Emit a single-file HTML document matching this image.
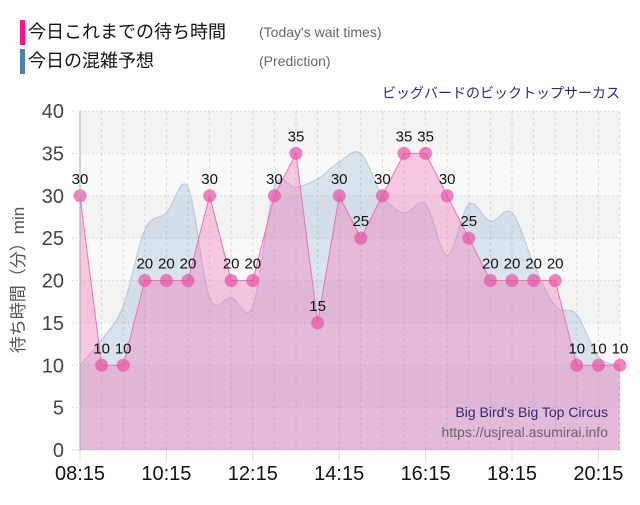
<!DOCTYPE html>
<html><head><meta charset="utf-8"><style>
body{margin:0;background:#fff;width:640px;height:500px;overflow:hidden;font-family:"Liberation Sans","Noto Sans CJK JP",sans-serif}
</style></head><body>
<svg id="chart" width="640" height="500" xmlns="http://www.w3.org/2000/svg" font-family="'Liberation Sans','Noto Sans CJK JP',sans-serif">
<g>
<rect x="20" y="20" width="5" height="25" fill="#f0188c"/>
<text x="28" y="38" font-size="18" fill="#111">今日これまでの待ち時間</text>
<text x="259" y="37" font-size="14" fill="#666">(Today's wait times)</text>
<rect x="20" y="49" width="5" height="25" fill="#4a7fb0"/>
<text x="28" y="67" font-size="18" fill="#111">今日の混雑予想</text>
<text x="259" y="66" font-size="14" fill="#666">(Prediction)</text>
</g>
<text x="620" y="98" text-anchor="end" font-size="14" fill="#2a2a7a">ビッグバードのビックトップサーカス</text>
<g id="grid"></g>
<g id="series"></g>
<g id="axes"></g>
<text x="608" y="417" text-anchor="end" font-size="14" fill="#2a2a7a">Big Bird's Big Top Circus</text>
<text x="608" y="437" text-anchor="end" font-size="14" fill="#666">https://usjreal.asumirai.info</text>
<text transform="translate(24,280) rotate(-90)" text-anchor="middle" font-size="17" fill="#555">待ち時間（分）min</text>
</svg>
<script>
const times=["08:15","08:45","09:15","09:45","10:15","10:45","11:15","11:45","12:15","12:45","13:15","13:45","14:15","14:45","15:15","15:45","16:15","16:45","17:15","17:45","18:15","18:45","19:15","19:45","20:15","20:45"];
const todayValues=[30,10,10,20,20,20,30,20,20,30,35,15,30,25,30,35,35,30,25,20,20,20,20,10,10,10];
const predictionValues=[10,13,17,26,28,31,18,18,17,31,31,32,34,35,30,28,29,23,29,27,28,22,17,16,11,10];
const xTickLabels=["08:15","10:15","12:15","14:15","16:15","18:15","20:15"];
const yTicks=[0,5,10,15,20,25,30,35,40];
</script>
<script>
const NS="http://www.w3.org/2000/svg";
const X0=80,X1=620,Y0=450,Y1=111,YMAX=40;
const n=times.length;
const xs=i=>X0+(X1-X0)*i/(n-1);
const ys=v=>Y0-(Y0-Y1)*v/YMAX;
function mk(tag,attrs,parent){const e=document.createElementNS(NS,tag);for(const k in attrs)e.setAttribute(k,attrs[k]);parent.appendChild(e);return e;}
const grid=document.getElementById('grid'),series=document.getElementById('series'),axes=document.getElementById('axes');
for(let i=0;i<yTicks.length-1;i++){
 const b=mk('rect',{x:X0,y:ys(yTicks[i+1]),width:X1-X0,height:ys(yTicks[i])-ys(yTicks[i+1]),fill:i%2?'#f3f3f3':'#f9f9f9'},grid);
 
 
}
yTicks.forEach(v=>{
 const l=mk('line',{x1:X0-8,x2:X1,y1:ys(v),y2:ys(v),stroke:'#ddd','stroke-dasharray':v>0?'2,2':'none'},grid);
 
 
 const t=mk('text',{x:X0-16,y:ys(v)+7,'text-anchor':'end','font-size':20,fill:'#444'},axes);
 t.textContent=v;
 
 
});
for(let i=0;i<n;i++){
 const l=mk('line',{x1:xs(i),x2:xs(i),y1:Y1,y2:Y0,stroke:'#d8d8d8','stroke-dasharray':'3,3'},grid);
 
 
}
xTickLabels.forEach(lab=>{
 const i=times.indexOf(lab);
 const tk=mk('line',{x1:xs(i),x2:xs(i),y1:Y0,y2:Y0+12,stroke:'#ddd'},axes);
 
 
 const t=mk('text',{x:xs(i),y:Y0+30,'text-anchor':'middle','font-size':20,fill:'#111'},axes);
 t.textContent=lab;
 
 
});
function smoothPath(vals){
 const p=vals.map((v,i)=>[xs(i),ys(v)]);
 let d=`M${p[0][0]},${p[0][1]}`;
 for(let i=0;i<p.length-1;i++){
  const a=p[i-1]||p[i],b=p[i],c=p[i+1],e=p[i+2]||c;
  const c1=[b[0]+(c[0]-a[0])/6,b[1]+(c[1]-a[1])/6],c2=[c[0]-(e[0]-b[0])/6,c[1]-(e[1]-b[1])/6];
  d+=` C${c1[0]},${c1[1]} ${c2[0]},${c2[1]} ${c[0]},${c[1]}`;
 }
 return d;
}
const pd=smoothPath(predictionValues);
const pa=mk('path',{d:pd+` L${X1},${Y0} L${X0},${Y0} Z`,fill:'rgba(90,140,185,0.2)',stroke:'none'},series);


const pl=mk('path',{d:pd,fill:'none',stroke:'rgba(90,140,185,0.35)','stroke-width':1},series);


let td='M'+todayValues.map((v,i)=>`${xs(i)},${ys(v)}`).join(' L');
const ta=mk('path',{d:td+` L${X1},${Y0} L${X0},${Y0} Z`,fill:'rgba(245,110,180,0.35)',stroke:'none'},series);


const tl=mk('path',{d:td,fill:'none',stroke:'#f070b8','stroke-width':1},series);


const ax=mk('line',{x1:X0,x2:X0,y1:Y1,y2:Y0,stroke:'#aaa'},axes);


todayValues.forEach((v,i)=>{
 const c=mk('circle',{cx:xs(i),cy:ys(v),r:6.5,fill:'rgba(232,80,165,0.7)'},series);
 
 
 const t=mk('text',{x:xs(i),y:ys(v)-12,'text-anchor':'middle','font-size':15,fill:'#111'},series);
 t.textContent=v;
 
 
});
</script>
</body></html>
